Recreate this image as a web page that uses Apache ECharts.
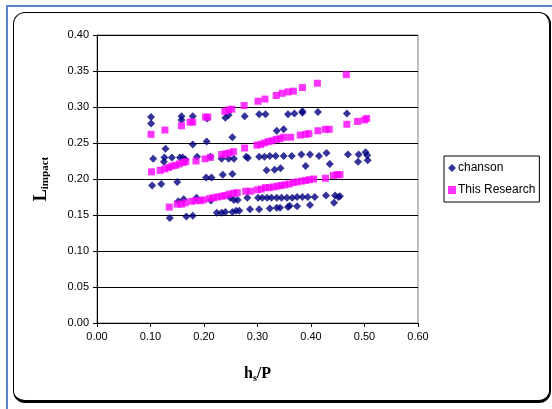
<!DOCTYPE html>
<html>
<head>
<meta charset="utf-8">
<script src="https://cdn.jsdelivr.net/npm/echarts@6/dist/echarts.min.js"></script>
<style>
html, body { margin: 0; padding: 0; background: #fff; }
#wrap { position: relative; width: 552px; height: 409px; overflow: hidden; }
#blueTop { position: absolute; left: 7px; top: 5px; width: 545px; height: 0; border-top: 2px solid #5b86c3; }
#blueLeft { position: absolute; left: 6px; top: 5px; width: 0; height: 404px; border-left: 2px solid #5b86c3; }
#frame { position: absolute; left: 13px; top: 12px; width: 538px; height: 391px; border: 1px solid #000;
         border-right-width: 2px; border-bottom-width: 3px; border-radius: 12px; box-sizing: border-box; }
#myChart { position: absolute; left: 0; top: 0; width: 552px; height: 409px; }
</style>
</head>
<body>
<div id="wrap">
  <div id="blueTop"></div>
  <div id="blueLeft"></div>
  <div id="frame"></div>
  <div id="myChart"></div>
</div>
<script>
// chanson (diamonds) [hs/P, Limpact]
let chanson = [
  [0.101, 0.286], [0.101, 0.277], [0.158, 0.287], [0.158, 0.282], [0.179, 0.287], [0.206, 0.284],
  [0.240, 0.285], [0.246, 0.289], [0.276, 0.287], [0.303, 0.290], [0.315, 0.290], [0.357, 0.290],
  [0.369, 0.291], [0.384, 0.292], [0.384, 0.294], [0.413, 0.293], [0.467, 0.291],
  [0.336, 0.267], [0.349, 0.269],
  [0.179, 0.248], [0.205, 0.252], [0.253, 0.258],
  [0.128, 0.242], [0.105, 0.228], [0.126, 0.230], [0.125, 0.224], [0.140, 0.230], [0.155, 0.230],
  [0.160, 0.230], [0.165, 0.227], [0.187, 0.231], [0.212, 0.231], [0.233, 0.228], [0.246, 0.228],
  [0.256, 0.228], [0.279, 0.231], [0.282, 0.229], [0.303, 0.231], [0.313, 0.231], [0.323, 0.232],
  [0.334, 0.232], [0.349, 0.232], [0.364, 0.232], [0.382, 0.234], [0.398, 0.234], [0.415, 0.232],
  [0.429, 0.236], [0.435, 0.221], [0.390, 0.218], [0.317, 0.212], [0.332, 0.213], [0.343, 0.215],
  [0.469, 0.234], [0.489, 0.234], [0.488, 0.224], [0.502, 0.237], [0.505, 0.233], [0.506, 0.226],
  [0.103, 0.191], [0.120, 0.193], [0.150, 0.196], [0.204, 0.202], [0.214, 0.202], [0.235, 0.206],
  [0.253, 0.207],
  [0.152, 0.169], [0.162, 0.172], [0.186, 0.174], [0.213, 0.170], [0.249, 0.174], [0.256, 0.171],
  [0.263, 0.171], [0.281, 0.174], [0.301, 0.174], [0.309, 0.174], [0.318, 0.174], [0.326, 0.174],
  [0.336, 0.174], [0.345, 0.174], [0.355, 0.174], [0.365, 0.174], [0.374, 0.175], [0.384, 0.175],
  [0.394, 0.175], [0.407, 0.175], [0.428, 0.177], [0.445, 0.177], [0.451, 0.175], [0.454, 0.176],
  [0.136, 0.146], [0.167, 0.148], [0.179, 0.149], [0.224, 0.153], [0.233, 0.153], [0.240, 0.154],
  [0.253, 0.154], [0.260, 0.156], [0.266, 0.156], [0.286, 0.158], [0.303, 0.158], [0.323, 0.159],
  [0.336, 0.160], [0.342, 0.160], [0.357, 0.161], [0.360, 0.163], [0.374, 0.162], [0.398, 0.164],
  [0.443, 0.167]
]

// This Research (squares) [hs/P, Limpact]
let thisResearch = [
  [0.101, 0.262], [0.127, 0.268], [0.158, 0.274], [0.174, 0.279], [0.179, 0.279], [0.203, 0.286],
  [0.207, 0.286], [0.239, 0.294], [0.246, 0.296], [0.252, 0.297], [0.275, 0.302], [0.301, 0.308],
  [0.314, 0.311], [0.335, 0.316], [0.346, 0.319], [0.357, 0.321], [0.367, 0.322], [0.384, 0.327],
  [0.412, 0.333], [0.466, 0.345],
  [0.102, 0.210], [0.118, 0.212], [0.127, 0.214], [0.134, 0.216], [0.140, 0.218], [0.147, 0.219],
  [0.154, 0.221], [0.161, 0.223], [0.166, 0.224], [0.185, 0.225], [0.202, 0.228], [0.212, 0.230],
  [0.233, 0.234], [0.241, 0.235], [0.247, 0.236], [0.255, 0.238], [0.276, 0.243], [0.299, 0.247],
  [0.306, 0.248], [0.313, 0.250], [0.320, 0.252], [0.327, 0.253], [0.335, 0.255], [0.342, 0.256],
  [0.349, 0.258], [0.362, 0.258], [0.380, 0.261], [0.390, 0.262], [0.396, 0.263], [0.413, 0.267],
  [0.427, 0.269], [0.434, 0.269], [0.467, 0.276], [0.487, 0.280], [0.500, 0.282], [0.504, 0.284],
  [0.135, 0.161], [0.150, 0.165], [0.158, 0.165], [0.165, 0.167], [0.177, 0.169], [0.185, 0.170],
  [0.193, 0.170], [0.199, 0.171], [0.211, 0.173], [0.218, 0.174], [0.225, 0.175], [0.233, 0.176],
  [0.239, 0.177], [0.247, 0.179], [0.255, 0.180], [0.262, 0.181], [0.278, 0.183], [0.287, 0.183],
  [0.300, 0.185], [0.307, 0.186], [0.315, 0.188], [0.322, 0.188], [0.330, 0.189], [0.337, 0.190],
  [0.344, 0.191], [0.351, 0.192], [0.359, 0.193], [0.367, 0.195], [0.374, 0.196], [0.382, 0.197],
  [0.390, 0.198], [0.397, 0.199], [0.405, 0.200], [0.427, 0.201], [0.442, 0.205], [0.449, 0.206],
  [0.454, 0.206]
]

let myChart = echarts.init(document.getElementById('myChart'))

let labelFont = "'Liberation Sans', Arial, sans-serif"
let titleFont = "'Liberation Serif', 'Times New Roman', serif"

let option = {
    animation: false,
    grid: {
        left: 97,
        top: 35,
        width: 321,
        height: 288,
        show: true,
        borderColor: '#808080',
        borderWidth: 1,
        backgroundColor: '#fff'
    },
    legend: {
        orient: 'vertical',
        left: 444,
        top: 156,
        padding: [6, 4, 6, 4],
        itemGap: 10,
        itemWidth: 8,
        itemHeight: 8,
        borderColor: '#000',
        borderWidth: 1,
        backgroundColor: '#fff',
        textStyle: { fontFamily: labelFont, fontSize: 12, color: '#000', padding: [0, 0, 0, -3] },
        data: [
            { name: 'chanson', icon: 'diamond' },
            { name: 'This Research', icon: 'rect' }
        ]
    },
    xAxis: {
        type: 'value',
        min: 0,
        max: 0.6,
        interval: 0.1,
        name: '{h|h}{s|s}{h|/P}',
        nameLocation: 'middle',
        nameGap: 42,
        nameTextStyle: {
            rich: {
                h: { fontFamily: titleFont, fontWeight: 'bold', fontSize: 16, color: '#000' },
                s: { fontFamily: titleFont, fontWeight: 'bold', fontSize: 10, color: '#000', padding: [8, 0, 0, 0] }
            }
        },
        axisLine: { show: true, onZero: false, lineStyle: { color: '#000' } },
        axisTick: { show: true, length: 4, lineStyle: { color: '#000' } },
        axisLabel: {
            fontFamily: labelFont, fontSize: 11, color: '#000', margin: 8,
            formatter: v => v.toFixed(2)
        },
        splitLine: { show: false }
    },
    yAxis: {
        type: 'value',
        min: 0,
        max: 0.4,
        interval: 0.05,
        name: '{L|L}{s|impact}',
        nameLocation: 'middle',
        nameRotate: 90,
        nameGap: 46,
        nameTextStyle: {
            rich: {
                L: { fontFamily: titleFont, fontWeight: 'bold', fontSize: 18, color: '#000' },
                s: { fontFamily: titleFont, fontWeight: 'bold', fontSize: 11, color: '#000', padding: [8, 0, 0, 0] }
            }
        },
        axisLine: { show: true, onZero: false, lineStyle: { color: '#000' } },
        axisTick: { show: true, length: 4, lineStyle: { color: '#000' } },
        axisLabel: {
            fontFamily: labelFont, fontSize: 11, color: '#000', margin: 8,
            formatter: v => v.toFixed(2)
        },
        splitLine: { show: true, lineStyle: { color: '#000', width: 1 } }
    },
    series: [
        {
            name: 'chanson',
            type: 'scatter',
            symbol: 'diamond',
            symbolSize: 8,
            itemStyle: { color: '#000080' },
            data: chanson
        },
        {
            name: 'This Research',
            type: 'scatter',
            symbol: 'rect',
            symbolSize: 7,
            itemStyle: { color: '#ff00ff' },
            data: thisResearch
        }
    ]
}
myChart.setOption(option)
</script>
</body>
</html>
